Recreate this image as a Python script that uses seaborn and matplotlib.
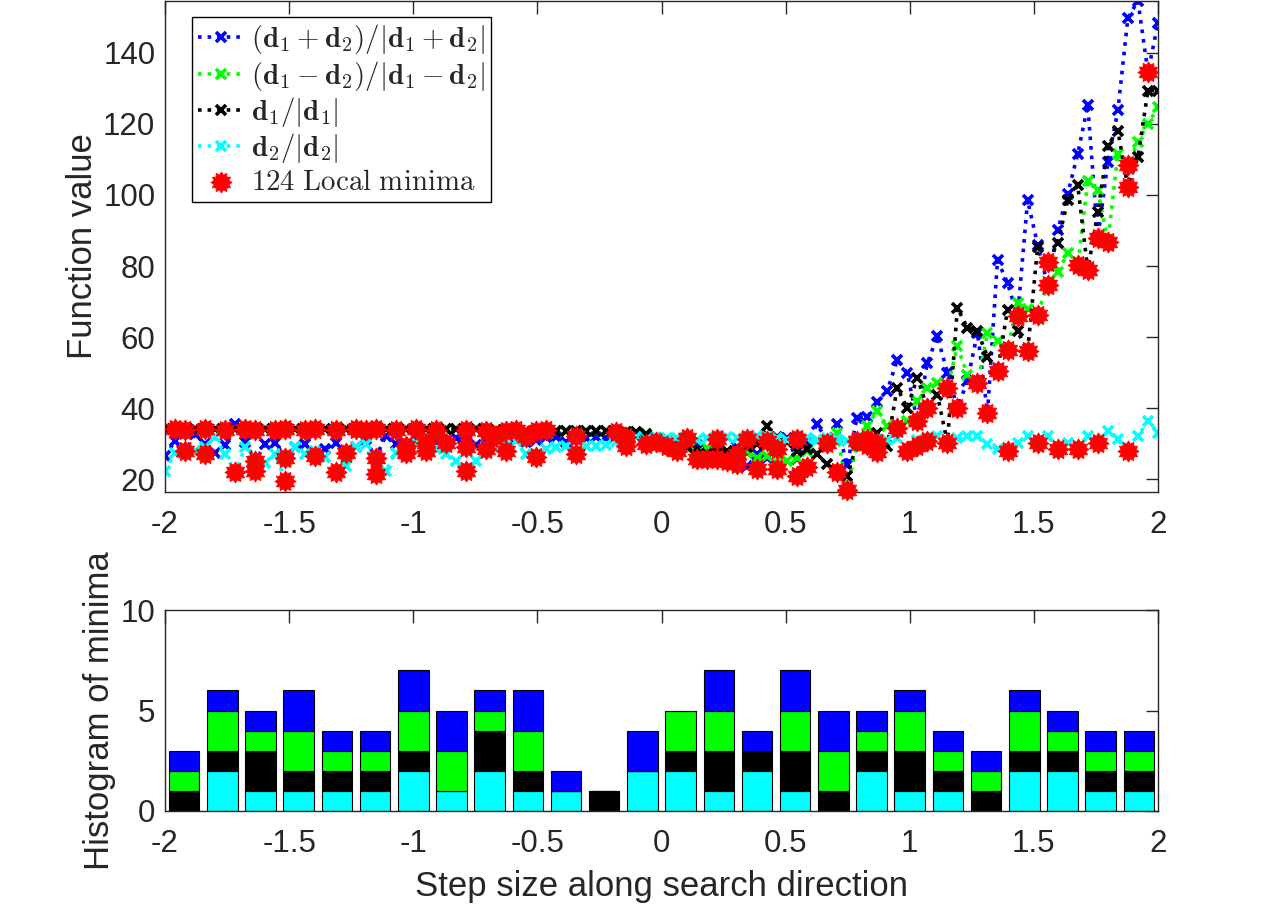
import numpy as np
import matplotlib
matplotlib.use('Agg')
import matplotlib.pyplot as plt
from matplotlib.path import Path
import seaborn as sns

# ---------------- data ----------------
x_grid = np.linspace(-2, 2, 100)

blue_vals = [26.5, 30.7, 27.9, 32.6, 30.0, 27.5, 29.5, 35.4, 30.5, 25.1,
             29.8, 30.3, 26.1, 29.0, 29.8, 26.5, 28.4, 30.3, 27.5, 29.0,
             31.2, 26.1, 32.1, 30.0, 29.3, 31.8, 27.8, 30.5, 30.3, 31.5,
             30.8, 29.5, 31.2, 30.0, 27.9, 31.8, 30.5, 31.0, 31.8, 31.8,
             30.5, 32.0, 31.5, 32.0, 31.5, 32.5, 31.8, 32.0, 32.5, 31.5,
             30.5, 30.0, 31.0, 29.5, 28.5, 29.0, 27.5, 29.0, 23.7, 27.0,
             26.1, 29.0, 31.7, 25.6, 30.0, 35.4, 31.0, 35.4, 24.0, 37.3,
             37.4, 41.6, 44.8, 53.6, 49.9, 36.4, 52.7, 60.2, 50.0, 40.1,
             47.6, 61.2, 38.7, 81.7, 75.2, 65.8, 98.5, 86.0, 74.7, 90.1,
             100.4, 111.6, 125.2, 87.8, 109.3, 123.8, 149.9, 154.6, 134.5, 148.5]

green_vals = [34.2, 34.0, 33.9, 34.2, 34.0, 34.1, 33.9, 34.2, 34.0, 33.9,
              34.2, 33.9, 34.0, 34.2, 33.9, 34.0, 34.2, 33.9, 34.2, 34.0,
              33.9, 34.0, 34.2, 33.9, 34.2, 34.0, 34.1, 33.9, 34.1, 34.1,
              33.8, 34.0, 33.7, 33.9, 33.6, 33.8, 33.7, 33.6, 33.8, 33.6,
              33.7, 33.5, 33.6, 33.5, 33.6, 33.4, 33.2, 33.3, 32.6, 31.5,
              31.2, 30.0, 29.0, 28.0, 28.9, 26.5, 26.0, 27.0, 27.5, 26.0,
              26.5, 24.5, 25.1, 26.0, 27.9, 31.0, 30.0, 33.1, 17.0, 30.0,
              35.0, 39.2, 35.0, 34.5, 36.4, 42.0, 45.7, 47.1, 45.7, 57.4,
              49.4, 47.1, 61.1, 58.8, 56.5, 69.5, 68.0, 66.3, 75.0, 78.4,
              83.6, 80.3, 104.0, 101.3, 86.8, 111.6, 108.3, 115.0, 120.0, 124.7]

black_vals = [34.2, 34.0, 33.9, 34.2, 34.0, 34.1, 33.9, 34.2, 34.0, 33.9,
              34.2, 33.9, 34.0, 34.2, 33.9, 34.0, 34.2, 33.9, 34.2, 34.0,
              33.9, 34.0, 34.2, 33.9, 34.2, 34.0, 34.1, 33.9, 34.1, 34.1,
              33.8, 34.0, 33.7, 33.9, 33.6, 33.8, 33.7, 33.6, 33.8, 33.6,
              33.7, 33.5, 33.6, 33.5, 33.6, 33.4, 33.2, 33.3, 32.6, 31.5,
              31.2, 30.0, 29.0, 28.4, 27.0, 27.5, 27.9, 27.0, 29.0, 30.0,
              34.9, 32.0, 30.4, 27.9, 28.5, 27.0, 24.2, 22.5, 20.8, 30.0,
              29.5, 33.0, 29.3, 45.8, 40.0, 48.6, 40.1, 43.8, 30.3, 68.2,
              62.6, 61.6, 54.5, 50.4, 67.7, 61.6, 56.0, 85.4, 81.2, 86.4,
              98.5, 102.7, 78.9, 95.2, 113.9, 118.1, 102.2, 110.7, 129.4, 129.4]

cyan_vals = [22.3, 27.5, 28.5, 27.9, 29.0, 31.8, 27.0, 21.9, 29.0, 22.3,
             24.7, 27.0, 19.5, 29.0, 27.0, 28.0, 26.2, 21.9, 23.7, 29.0,
             29.8, 21.4, 22.3, 27.5, 27.5, 30.3, 29.0, 28.4, 27.0, 25.0,
             22.3, 25.0, 29.3, 29.0, 29.3, 30.8, 27.0, 26.2, 28.4, 29.0,
             29.3, 27.0, 29.3, 29.3, 29.5, 30.5, 31.5, 32.0, 31.0, 31.5,
             31.5, 31.7, 31.7, 31.0, 31.5, 31.2, 31.8, 31.5, 32.0, 32.3,
             32.0, 31.5, 31.0, 31.2, 31.5, 31.0, 31.5, 31.2, 30.8, 31.5,
             31.3, 31.2, 31.0, 31.5, 27.9, 31.0, 31.5, 32.1, 30.3, 31.5,
             32.1, 32.1, 29.8, 28.4, 27.9, 30.3, 32.1, 30.3, 32.1, 28.4,
             30.3, 28.4, 32.1, 30.3, 33.5, 31.2, 27.9, 32.1, 36.4, 33.1]

# local minima: sample index and function value
minima_idx = [1, 2, 4, 6, 8, 9, 11, 12, 14, 15, 17, 19, 20, 21, 23, 25, 27, 30, 32, 34, 35, 37, 38, 45,
              33, 36, 41, 46,
              2, 4, 7, 9, 9, 12, 12, 15, 17, 18, 21, 21, 24, 24, 26, 26, 28, 30, 30, 32, 34, 37, 41, 46, 48, 49, 50,
              51, 52, 53, 54, 55, 55, 56, 57, 57, 58, 59, 60, 61, 61, 63, 63, 64, 66, 67, 68, 69, 70, 70, 71, 71,
              73, 74, 75, 75, 76, 76, 78, 78, 79, 81, 82, 83, 84, 84, 85, 86, 87, 87, 88, 88, 89, 91, 91, 92, 93,
              93, 94, 96, 96, 96, 98]
minima_val = [34.0, 33.9, 34.0, 33.9, 34.0, 33.9, 33.9, 34.0, 33.9, 34.0, 33.9, 34.0, 33.9, 34.0, 33.9, 34.0,
              33.9, 33.8, 33.7, 33.6, 33.8, 33.6, 33.8, 33.4,
              32.1, 31.8, 32.1, 31.8,
              27.9, 27.0, 21.9, 25.1, 22.3, 26.1, 19.5, 26.5, 21.9, 27.5, 26.1, 21.4, 29.3, 27.5, 30.3, 27.8, 30.3,
              29.0, 22.3, 28.4, 27.9, 26.2, 27.0, 29.3, 29.8, 30.5, 29.3,
              27.9, 31.7, 25.6, 25.6, 31.2, 25.6, 25.1, 27.0, 24.3, 31.2, 22.8, 30.7, 28.4, 22.9, 31.2, 20.9, 23.3,
              30.3, 21.9, 17.0, 30.7, 31.2, 29.5, 30.3, 27.6,
              34.5, 27.9, 36.4, 29.3, 40.1, 30.7, 45.7, 30.3, 40.1, 47.1, 38.7, 50.4, 56.5, 27.9, 65.8, 56.0, 66.3,
              30.3, 74.7, 81.2, 28.4, 28.4, 80.3, 78.9, 87.8, 30.3, 86.8, 108.3, 102.2, 27.9, 134.5]

# histogram of minima (26 bins on [-2, 2]), counts per direction
bin_edges = np.linspace(-2, 2, 27)
hist_cyan = [0, 2, 1, 1, 1, 1, 2, 1, 2, 1, 1, 0, 2, 2, 1, 2, 1, 0, 2, 1, 1, 0, 2, 2, 1, 1]
hist_black = [1, 1, 2, 1, 1, 1, 1, 0, 2, 1, 0, 1, 0, 1, 2, 1, 2, 1, 1, 2, 1, 1, 1, 1, 1, 1]
hist_green = [1, 2, 1, 2, 1, 1, 2, 2, 1, 2, 0, 0, 0, 2, 2, 0, 2, 2, 1, 2, 1, 1, 2, 1, 1, 1]
hist_blue = [1, 1, 1, 2, 1, 1, 2, 2, 1, 2, 1, 0, 2, 0, 2, 1, 2, 2, 1, 1, 1, 1, 1, 1, 1, 1]

x_ticks = [-2, -1.5, -1, -0.5, 0, 0.5, 1, 1.5, 2]
x_ticklabels = ['-2', '-1.5', '-1', '-0.5', '0', '0.5', '1', '1.5', '2']
y_ticks_top = [20, 40, 60, 80, 100, 120, 140]
y_ticks_bottom = [0, 5, 10]

labels = [r'$(\mathbf{d}_1+\mathbf{d}_2)/|\mathbf{d}_1+\mathbf{d}_2|$',
          r'$(\mathbf{d}_1-\mathbf{d}_2)/|\mathbf{d}_1-\mathbf{d}_2|$',
          r'$\mathbf{d}_1/|\mathbf{d}_1|$',
          r'$\mathbf{d}_2/|\mathbf{d}_2|$',
          r'$\mathrm{124\ Local\ minima}$']

# ---------------- style ----------------
sns.set_theme(style='white')
plt.rcParams['font.family'] = ['Liberation Sans', 'DejaVu Sans']
plt.rcParams['mathtext.fontset'] = 'cm'
plt.rcParams['axes.unicode_minus'] = False

AX_COL = '0.15'
W, H = 1280, 907
fig = plt.figure(figsize=(W / 100, H / 100), dpi=100)
ax1 = fig.add_axes([165 / W, 1 - 492 / H, 993 / W, 491 / H])
ax2 = fig.add_axes([165 / W, 1 - 811 / H, 993 / W, 201 / H])

series = [(blue_vals, (0, 0, 1)), (green_vals, (0, 1, 0)),
          (black_vals, (0, 0, 0)), (cyan_vals, (0, 1, 1))]
for (vals, col), lab in zip(series, labels[:4]):
    sns.lineplot(x=x_grid, y=vals, ax=ax1, color=col, linestyle=':', linewidth=2.6,
                 marker='x', markersize=7, markeredgewidth=2.6, markeredgecolor=col,
                 estimator=None, sort=False, errorbar=None, label=lab)

star = Path.unit_regular_star(12, innerCircle=0.72)
sns.scatterplot(x=x_grid[minima_idx], y=minima_val, ax=ax1, marker=star, s=230,
                color='red', edgecolor='red', linewidth=0.6, zorder=5,
                clip_on=False, label=labels[4])

ax1.set_xlim(-2, 2)
ax1.set_ylim(16.4, 154.6)
ax1.set_xticks(x_ticks)
ax1.set_xticklabels(x_ticklabels)
ax1.set_yticks(y_ticks_top)
ax1.set_ylabel('Function value', fontsize=25, color=AX_COL, labelpad=3)
ax1.set_xlabel('')

h, l = ax1.get_legend_handles_labels()
leg = ax1.legend(h, l, loc='upper left', bbox_to_anchor=(0.027, 0.968), borderaxespad=0,
                 fontsize=20.8, frameon=True, fancybox=False, edgecolor='black',
                 handlelength=1.6, handletextpad=0.25, labelspacing=0.08,
                 borderpad=0.2, numpoints=1, scatterpoints=1)
leg.get_frame().set_linewidth(1.0)
leg.get_frame().set_alpha(1)

# stacked histogram
centers = (bin_edges[:-1] + bin_edges[1:]) / 2
bw = (bin_edges[1] - bin_edges[0]) * 0.8
bottom = np.zeros(len(centers))
for counts, col in [(hist_cyan, (0, 1, 1)), (hist_black, (0, 0, 0)),
                    (hist_green, (0, 1, 0)), (hist_blue, (0, 0, 1))]:
    ax2.bar(centers, counts, width=bw, bottom=bottom, color=col,
            edgecolor='black', linewidth=0.8)
    bottom = bottom + np.array(counts)

ax2.set_xlim(-2, 2)
ax2.set_ylim(0, 10)
ax2.set_xticks(x_ticks)
ax2.set_xticklabels(x_ticklabels)
ax2.set_yticks(y_ticks_bottom)
ax2.set_ylabel('Histogram of minima', fontsize=25, color=AX_COL, labelpad=3.5)
ax2.set_xlabel('Step size along search direction', fontsize=25, color=AX_COL, labelpad=8)

for ax in (ax1, ax2):
    ax.tick_params(direction='in', length=9, width=1, top=True, right=True,
                   labelsize=22.5, colors=AX_COL)
    ax.tick_params(axis='x', pad=13)
    ax.tick_params(axis='y', pad=7)
    for sp in ax.spines.values():
        sp.set_color(AX_COL)
        sp.set_linewidth(1)
    ax.set_facecolor('white')
    ax.grid(False)

fig.savefig('out.png', dpi=100, facecolor='white')
